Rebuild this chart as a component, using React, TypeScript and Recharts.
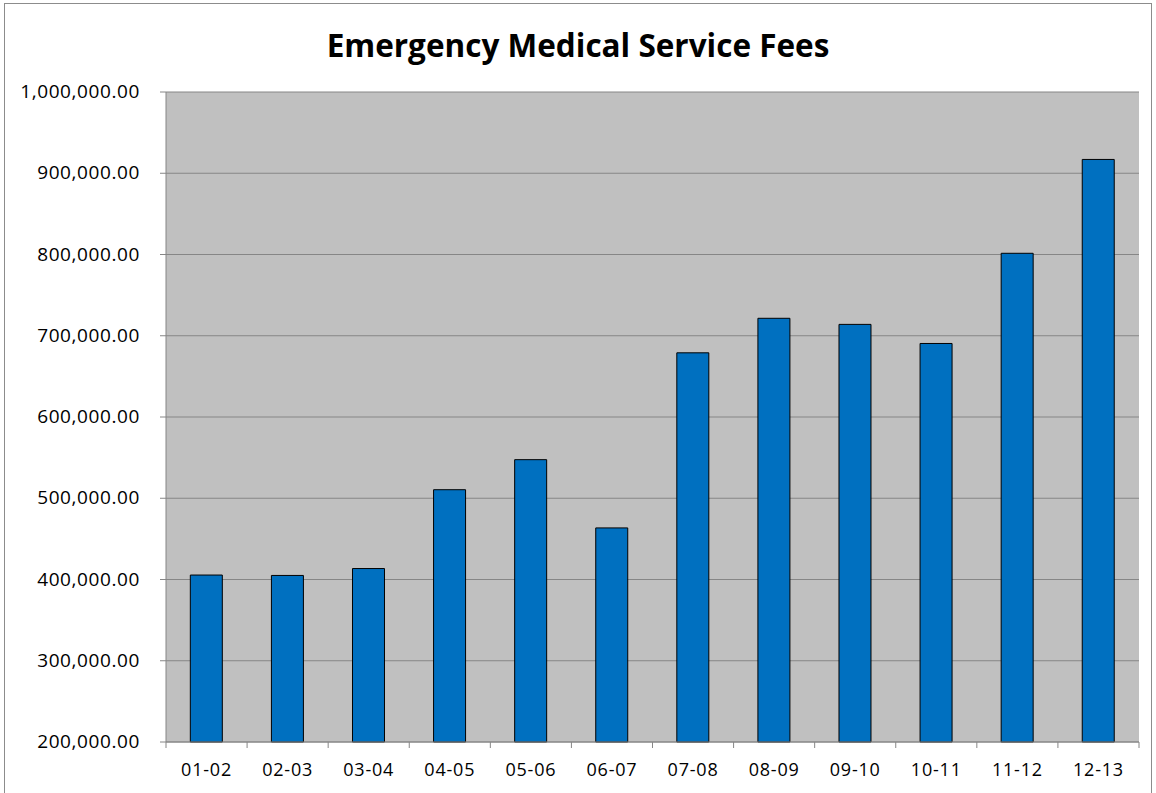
import { BarChart, Bar, XAxis, YAxis, CartesianGrid } from "recharts";

const YEARS = ["01-02", "02-03", "03-04", "04-05", "05-06", "06-07", "07-08", "08-09", "09-10", "10-11", "11-12", "12-13"];
const FEES = [405500, 405000, 413500, 510500, 547500, 463500, 679000, 721500, 714000, 690500, 801500, 917000];
const Y_TICKS = [200000, 300000, 400000, 500000, 600000, 700000, 800000, 900000, 1000000];

const data = YEARS.map((year, i) => ({ year, fees: FEES[i] }));

const W = 1156;
const H = 793;
const MARGIN = { top: 92, right: 17, bottom: 21, left: 0 };
const Y_AXIS_W = 166;
const BAND = (W - MARGIN.left - MARGIN.right - Y_AXIS_W) / YEARS.length;
const FONT = "'Open Sans', sans-serif";

const fmt = (v: number) =>
  v.toLocaleString("en-US", { minimumFractionDigits: 2, maximumFractionDigits: 2 });

// Excel puts the category ticks between bars, so shift them half a band
function XTick(props: any) {
  const { x, y, payload, index } = props;
  const left = x - BAND / 2;
  return (
    <g>
      <line x1={left} x2={left} y1={y - 8} y2={y - 2} stroke="#868686" />
      {index === YEARS.length - 1 && (
        <line x1={left + BAND} x2={left + BAND} y1={y - 8} y2={y - 2} stroke="#868686" />
      )}
      <text
        x={x}
        y={y + 26}
        textAnchor="middle"
        fontSize={18}
        letterSpacing={0.8}
        fontFamily={FONT}
        fill="#000"
      >
        {payload.value}
      </text>
    </g>
  );
}

function YTick(props: any) {
  const { x, y, payload } = props;
  return (
    <text
      x={x}
      y={y}
      dy={6}
      textAnchor="end"
      fontSize={19}
      letterSpacing={0.6}
      fontFamily={FONT}
      fill="#000"
    >
      {fmt(payload.value)}
    </text>
  );
}

export default function App() {
  return (
    <div style={{ position: "absolute", left: 0, top: 0, width: W, height: H, background: "#fff" }}>
      <div
        style={{
          position: "absolute",
          left: 4,
          top: 3,
          width: 1146,
          height: 800,
          border: "1px solid #8c8c8c",
        }}
      />
      <div
        style={{
          position: "absolute",
          left: 0,
          top: 25,
          width: W,
          textAlign: "center",
          fontFamily: FONT,
          fontWeight: 700,
          fontSize: 31.5,
          lineHeight: "40px",
          color: "#000",
        }}
      >
        Emergency Medical Service Fees
      </div>
      <BarChart width={W} height={H} data={data} margin={MARGIN} barCategoryGap="30%">
        <CartesianGrid vertical={false} stroke="#868686" strokeWidth={1} fill="#C0C0C0" />
        <XAxis
          dataKey="year"
          height={30}
          tickLine={false}
          axisLine={{ stroke: "#868686" }}
          tick={<XTick />}
          interval={0}
        />
        <YAxis
          width={Y_AXIS_W}
          domain={[200000, 1000000]}
          ticks={Y_TICKS}
          tickSize={6}
          tickMargin={20}
          tickLine={{ stroke: "#868686" }}
          axisLine={{ stroke: "#868686" }}
          tick={<YTick />}
          interval={0}
        />
        <Bar dataKey="fees" fill="#0070C0" stroke="#000" strokeWidth={1} isAnimationActive={false} />
      </BarChart>
    </div>
  );
}
